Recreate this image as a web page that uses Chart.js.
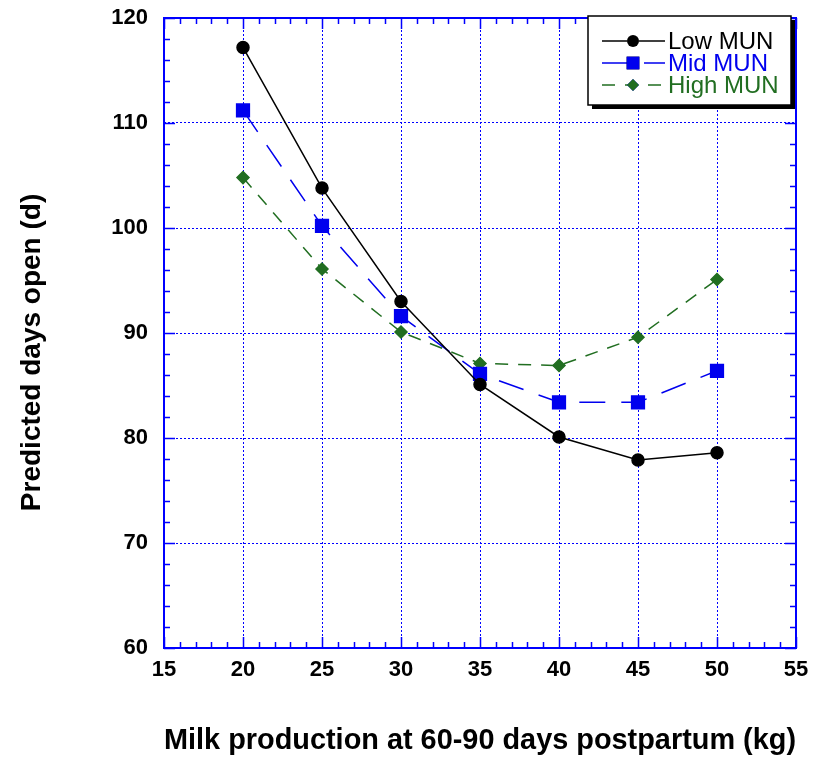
<!DOCTYPE html>
<html>
<head>
<meta charset="utf-8">
<script src="https://cdn.jsdelivr.net/npm/chart.js@4"></script>
<style>
  html, body { margin: 0; padding: 0; background: #fff; }
  #wrap { width: 823px; height: 763px; }
</style>
</head>
<body>
<div id="wrap"><canvas id="munChart" width="823" height="763"></canvas></div>
<script>
var milk = [20, 25, 30, 35, 40, 45, 50];
var lowMUN = [117.2, 103.8, 93.0, 85.1, 80.1, 77.9, 78.6];
var midMUN = [111.2, 100.2, 91.6, 86.1, 83.4, 83.4, 86.4];
var highMUN = [104.8, 96.1, 90.1, 87.1, 86.9, 89.6, 95.1];
var seriesNames = ['Low MUN', 'Mid MUN', 'High MUN'];

var axisBlue = '#0000ff';
var green = '#216e21';
var font = '"Liberation Sans", Arial, Helvetica, sans-serif';

function pts(ys) {
    return milk.map(function (x, i) { return { x: x, y: ys[i] }; });
}

// inward ticks, minor ticks, and the frame round the plot
var frame = {
    id: 'frame',
    afterDatasetsDraw: function (chart) {
        var ctx = chart.ctx, a = chart.chartArea;
        var xs = chart.scales.x, ys = chart.scales.y;
        ctx.save();
        ctx.strokeStyle = axisBlue;
        ctx.lineWidth = 2;
        ctx.strokeRect(a.left, a.top, a.right - a.left, a.bottom - a.top);
        ctx.lineWidth = 1.5;
        ctx.beginPath();
        for (var v = 15; v <= 55; v++) {
            var px = Math.round(xs.getPixelForValue(v)) + 0.5;
            var len = v % 5 === 0 ? 11 : 6;
            ctx.moveTo(px, a.bottom); ctx.lineTo(px, a.bottom - len);
            ctx.moveTo(px, a.top); ctx.lineTo(px, a.top + len);
        }
        for (var w = 60; w <= 120; w += 2) {
            var py = Math.round(ys.getPixelForValue(w)) + 0.5;
            var l2 = w % 10 === 0 ? 11 : 6;
            ctx.moveTo(a.left, py); ctx.lineTo(a.left + l2, py);
            ctx.moveTo(a.right, py); ctx.lineTo(a.right - l2, py);
        }
        ctx.stroke();
        ctx.restore();
    }
};

// boxed legend in the top right corner
var boxLegend = {
    id: 'boxLegend',
    afterDraw: function (chart) {
        var ctx = chart.ctx;
        var bx = 588, by = 16, bw = 203, bh = 89;
        ctx.save();
        ctx.fillStyle = '#000';
        ctx.fillRect(bx + 4, by + 4, bw, bh);
        ctx.fillStyle = '#fff';
        ctx.fillRect(bx, by, bw, bh);
        ctx.strokeStyle = '#000';
        ctx.lineWidth = 1.5;
        ctx.strokeRect(bx, by, bw, bh);
        chart.data.datasets.forEach(function (ds, i) {
            var y = by + 25 + i * 22;
            ctx.strokeStyle = ds.borderColor;
            ctx.lineWidth = ds.borderWidth;
            ctx.setLineDash(ds.borderDash || []);
            ctx.beginPath();
            ctx.moveTo(602, y); ctx.lineTo(665, y);
            ctx.stroke();
            ctx.setLineDash([]);
            Chart.helpers.drawPoint(ctx, {
                pointStyle: ds.pointStyle, radius: ds.pointRadius, borderWidth: 0
            }, 633, y);
            ctx.fillStyle = ds.borderColor;
            ctx.fill();
            ctx.font = '24px ' + font;
            ctx.textBaseline = 'middle';
            ctx.fillText(ds.label, 668, y + 1);
        });
        ctx.restore();
    }
};

var tickFont = { family: font, size: 22, weight: 'bold' };

new Chart(document.getElementById('munChart'), {
    type: 'scatter',
    data: {
        datasets: [{
            label: seriesNames[0],
            data: pts(lowMUN),
            showLine: true,
            borderColor: '#000',
            backgroundColor: '#000',
            borderWidth: 1.5,
            pointStyle: 'circle',
            pointRadius: 6
        }, {
            label: seriesNames[1],
            data: pts(midMUN),
            showLine: true,
            borderColor: '#0000ee',
            backgroundColor: '#0000ee',
            borderWidth: 1.5,
            borderDash: [26, 16],
            pointStyle: 'rect',
            pointRadius: 9
        }, {
            label: seriesNames[2],
            data: pts(highMUN),
            showLine: true,
            borderColor: green,
            backgroundColor: green,
            borderWidth: 1.5,
            borderDash: [13, 10],
            pointStyle: 'rectRot',
            pointRadius: 6
        }]
    },
    options: {
        responsive: false,
        animation: false,
        layout: { padding: { top: 0, right: 27, left: 0, bottom: 0 } },
        plugins: { legend: { display: false }, tooltip: { enabled: false } },
        elements: { point: { borderWidth: 0 } },
        scales: {
            x: {
                type: 'linear', min: 15, max: 55,
                afterFit: function (s) { s.height = 115; },
                ticks: { stepSize: 5, padding: 9, color: '#000', font: tickFont },
                grid: { drawTicks: false, color: axisBlue, lineWidth: 1 },
                border: { display: false, dash: [2, 2] },
                title: { display: true, text: 'Milk production at 60-90 days postpartum (kg)', color: '#000', padding: { top: 0, bottom: 4 }, font: { family: font, size: 30, weight: 'bold' } }
            },
            y: {
                min: 60, max: 120,
                afterFit: function (s) { s.width = 164; s.paddingTop = 18; s.paddingBottom = 0; },
                ticks: { stepSize: 10, padding: 16, color: '#000', font: tickFont },
                grid: { drawTicks: false, color: axisBlue, lineWidth: 1 },
                border: { display: false, dash: [2, 2] },
                title: { display: true, text: 'Predicted days open (d)     ', color: '#000', padding: { top: 15, bottom: 0 }, font: { family: font, size: 28, weight: 'bold' } }
            }
        }
    },
    plugins: [frame, boxLegend]
});
</script>
</body>
</html>
